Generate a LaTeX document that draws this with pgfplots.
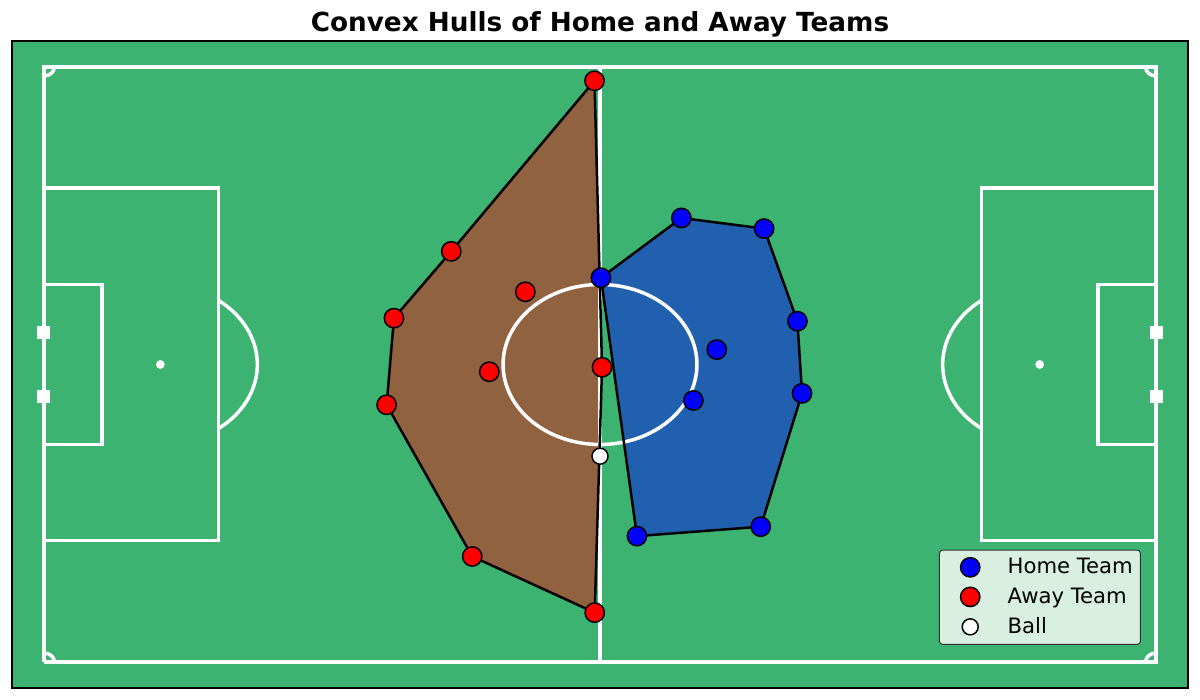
\documentclass[border=0pt]{standalone}
\usepackage{fontspec}
\setmainfont{DejaVu Sans}
\usepackage{pgfplots}
\pgfplotsset{compat=1.18}

\definecolor{pitchgreen}{RGB}{60,179,113}
\definecolor{hullbrown}{RGB}{145,98,64}
\definecolor{hullblue}{RGB}{33,96,175}
\definecolor{homeblue}{RGB}{0,0,255}
\definecolor{awayred}{RGB}{255,0,0}

\begin{document}
\begin{tikzpicture}
\begin{axis}[
    scale only axis,
    width=705.6pt, height=388.2pt,
    xmin=-3, xmax=108, ymin=-3, ymax=71,
    xtick=\empty, ytick=\empty,
    axis line style={black, line width=0.8pt},
    axis background/.style={fill=pitchgreen},
    title={Convex Hulls of Home and Away Teams},
    title style={font=\fontsize{15.75}{18}\selectfont\bfseries,
        at={(0.5,1)}, anchor=base, yshift=-0.6pt},
    pitch/.style={white, line width=2.1pt, forget plot},
    hull/.style={black, line width=1.5pt, line join=round, forget plot},
    legend cell align=left,
    legend image code/.code={
        \path (-2.4pt,0pt) (33pt,0pt);
        \draw[#1, fill opacity=1, draw opacity=1] plot coordinates {(13pt,0pt)};},
    legend style={at={(0.96,0.0665)}, anchor=south east,
        draw=black!80, fill=white, fill opacity=0.8, text opacity=1,
        rounded corners=2pt, line width=0.6pt,
        font=\fontsize{12.7}{14}\selectfont,
        row sep=3pt, inner xsep=2.6pt, inner ysep=3pt},
]

% hull fills
\addplot[fill=hullbrown, draw=none, forget plot] coordinates {
    (51.98,66.45) (38.46,46.94) (33.05,39.30) (32.36,29.39)
    (40.44,12.04) (52.00,5.62) (52.69,33.68)} -- cycle;
\addplot[fill=hullblue, draw=none, forget plot] coordinates {
    (52.59,43.92) (60.18,50.76) (67.99,49.54) (71.13,38.95)
    (71.57,30.70) (67.67,15.45) (55.99,14.37)} -- cycle;

% pitch markings
\addplot[pitch] coordinates {(0,0) (105,0) (105,68) (0,68) (0,0)};
\addplot[pitch] coordinates {(52.5,0) (52.5,68)};
\addplot[pitch] coordinates {(0,13.84) (16.5,13.84) (16.5,54.16) (0,54.16)};
\addplot[pitch] coordinates {(105,13.84) (88.5,13.84) (88.5,54.16) (105,54.16)};
\addplot[pitch] coordinates {(0,24.84) (5.5,24.84) (5.5,43.16) (0,43.16)};
\addplot[pitch] coordinates {(105,24.84) (99.5,24.84) (99.5,43.16) (105,43.16)};
\draw[white, line width=2.1pt] (axis cs:52.5,34) ellipse [x radius=58.16pt, y radius=48pt];
\draw[white, line width=2.1pt] (axis cs:16.5,26.68)
    arc[start angle=-53.13, end angle=53.13, x radius=58.16pt, y radius=48pt];
\draw[white, line width=2.1pt] (axis cs:88.5,41.32)
    arc[start angle=126.87, end angle=233.13, x radius=58.16pt, y radius=48pt];
\draw[white, line width=2.1pt] (axis cs:1,0)
    arc[start angle=0, end angle=90, x radius=6.36pt, y radius=5.25pt];
\draw[white, line width=2.1pt] (axis cs:0,67)
    arc[start angle=-90, end angle=0, x radius=6.36pt, y radius=5.25pt];
\draw[white, line width=2.1pt] (axis cs:105,1)
    arc[start angle=90, end angle=180, x radius=6.36pt, y radius=5.25pt];
\draw[white, line width=2.1pt] (axis cs:104,68)
    arc[start angle=180, end angle=270, x radius=6.36pt, y radius=5.25pt];
\addplot[only marks, mark=*, mark size=2.4pt, white, forget plot]
    coordinates {(11,34) (52.5,34) (94,34)};
\addplot[only marks, mark=square*, mark size=3.6pt, white, forget plot]
    coordinates {(0,30.34) (0,37.66) (105,30.34) (105,37.66)};

% hull outlines
\addplot[hull] coordinates {
    (51.98,66.45) (38.46,46.94) (33.05,39.30) (32.36,29.39)
    (40.44,12.04) (52.00,5.62) (52.69,33.68) (51.98,66.45)};
\addplot[hull] coordinates {
    (52.59,43.92) (60.18,50.76) (67.99,49.54) (71.13,38.95)
    (71.57,30.70) (67.67,15.45) (55.99,14.37) (52.59,43.92)};

% players and ball
\addplot[only marks, mark=*, mark size=5.8pt, draw=black, fill=homeblue, line width=0.9pt]
    coordinates {
    (52.59,43.92) (60.18,50.76) (67.99,49.54) (71.13,38.95) (63.52,35.70)
    (71.57,30.70) (61.31,29.89) (67.67,15.45) (55.99,14.37)};
\addlegendentry{Home Team}
\addplot[only marks, mark=*, mark size=5.8pt, draw=black, fill=awayred, line width=0.9pt]
    coordinates {
    (51.98,66.45) (38.46,46.94) (33.05,39.30) (45.45,42.31) (42.05,33.17)
    (52.69,33.68) (32.36,29.39) (40.44,12.04) (52.00,5.62)};
\addlegendentry{Away Team}
\addplot[only marks, mark=*, mark size=4.8pt, draw=black, fill=white, line width=0.9pt]
    coordinates {(52.50,23.51)};
\addlegendentry{Ball}
\end{axis}
\pgfresetboundingbox
\path[use as bounding box] ([xshift=-7.2pt,yshift=-7.2pt]current axis.south west)
    rectangle ([xshift=7.2pt,yshift=24.6pt]current axis.north east);
\end{tikzpicture}
\end{document}
